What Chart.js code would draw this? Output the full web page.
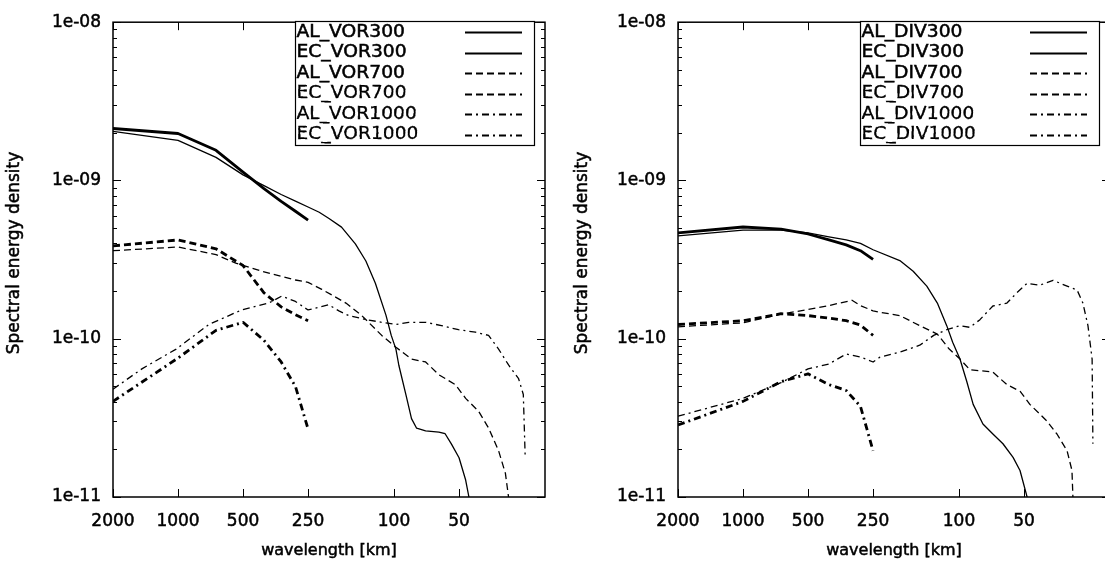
<!DOCTYPE html>
<html><head><meta charset="utf-8">
<script src="https://cdn.jsdelivr.net/npm/chart.js@4.4.1/dist/chart.umd.min.js"></script>
<style>
html,body{margin:0;padding:0;background:#fff;overflow:hidden;width:1105px;height:567px;position:relative;}
canvas{position:absolute;top:0;}
#left{left:0px}
#right{left:565px}
</style></head><body>
<canvas id="left" width="560" height="567"></canvas>
<canvas id="right" width="560" height="567"></canvas>
<script>
// ---- axis ticks / titles ----
const xTickValues = [2000, 1000, 500, 250, 100, 50];
const xTickLabels = ['2000', '1000', '500', '250', '100', '50'];
const yTickValues = [1e-11, 1e-10, 1e-9, 1e-8];
const yTickLabels = ['1e-11', '1e-10', '1e-09', '1e-08'];
const xTitle = 'wavelength [km]';
const yTitle = 'Spectral energy density';

// ---- AL (limited-area) wavelengths, km ----
const alLambda = [2000, 1000, 667, 500, 400, 333, 286, 250];

// ---- Vorticity panel ----
const alVor300 = [2.13e-9, 1.98e-9, 1.55e-9, 1.13e-9, 8.87e-10, 7.37e-10, 6.39e-10, 5.61e-10];
const alVor700 = [3.86e-10, 4.21e-10, 3.7e-10, 2.9e-10, 1.95e-10, 1.59e-10, 1.42e-10, 1.30e-10];
const alVor1000 = [4.02e-11, 7.55e-11, 1.13e-10, 1.27e-10, 9.77e-11, 7.13e-11, 4.99e-11, 2.69e-11];

const ecVor300Lambda = [2000, 1000, 667, 500, 400, 333, 286, 250, 222, 200, 175, 151, 135, 122, 109, 103, 98, 95, 88, 83, 78.6, 71.4, 62, 58, 54.2, 50, 46.6, 45, 43];
const ecVor300 = [2.04e-9, 1.79e-9, 1.40e-9, 1.085e-9, 9.27e-10, 8.15e-10, 7.4e-10, 6.8e-10, 6.3e-10, 5.75e-10, 5.07e-10, 3.98e-10, 3.10e-10, 2.24e-10, 1.41e-10, 1.05e-10, 8.6e-11, 6.8e-11, 4.4e-11, 3.13e-11, 2.72e-11, 2.62e-11, 2.57e-11, 2.51e-11, 2.16e-11, 1.77e-11, 1.28e-11, 1e-11, 7e-12];

const ecVor700Lambda = [2000, 1000, 667, 540, 409, 286, 250, 216, 194, 167, 141, 114, 98, 83, 71.4, 62, 52, 46.6, 40.6, 36.5, 32.8, 30.5, 29.5, 29];
const ecVor700 = [3.6e-10, 3.8e-10, 3.4e-10, 3.0e-10, 2.67e-10, 2.35e-10, 2.27e-10, 2.05e-10, 1.89e-10, 1.68e-10, 1.40e-10, 1.05e-10, 8.84e-11, 7.44e-11, 7.13e-11, 5.92e-11, 5.13e-11, 4.2e-11, 3.48e-11, 2.73e-11, 1.96e-11, 1.41e-11, 1e-11, 8e-12];

const ecVor1000Lambda = [2000, 1470, 1020, 720, 508, 380, 331, 286, 250, 222, 201, 180, 162, 134, 114, 98, 85.6, 71.4, 60.3, 50.3, 42, 36.5, 32.8, 29.5, 26.5, 25.2, 24.7];
const ecVor1000 = [4.8e-11, 6.45e-11, 8.6e-11, 1.23e-10, 1.52e-10, 1.68e-10, 1.86e-10, 1.72e-10, 1.52e-10, 1.58e-10, 1.64e-10, 1.5e-10, 1.40e-10, 1.32e-10, 1.27e-10, 1.23e-10, 1.27e-10, 1.27e-10, 1.21e-10, 1.14e-10, 1.10e-10, 1.05e-10, 8.6e-11, 6.83e-11, 5.59e-11, 4.44e-11, 1.78e-11];

// ---- Divergence panel ----
const alDiv300 = [4.66e-10, 5.08e-10, 4.93e-10, 4.59e-10, 4.21e-10, 3.92e-10, 3.6e-10, 3.17e-10];
const alDiv700 = [1.23e-10, 1.30e-10, 1.44e-10, 1.40e-10, 1.35e-10, 1.30e-10, 1.22e-10, 1.05e-10];
const alDiv1000 = [2.85e-11, 4.02e-11, 5.35e-11, 6.0e-11, 5.13e-11, 4.71e-11, 3.74e-11, 1.96e-11];

const ecDiv300Lambda = [2000, 1000, 667, 500, 400, 333, 286, 250, 188, 163, 141, 126, 114, 107, 99, 92, 86, 77.5, 69.7, 62.6, 56.2, 52.2, 48.4, 46];
const ecDiv300 = [4.46e-10, 4.86e-10, 4.86e-10, 4.66e-10, 4.4e-10, 4.21e-10, 4.0e-10, 3.65e-10, 3.12e-10, 2.67e-10, 2.15e-10, 1.68e-10, 1.21e-10, 9.5e-11, 7.44e-11, 5.35e-11, 3.85e-11, 2.89e-11, 2.5e-11, 2.17e-11, 1.78e-11, 1.47e-11, 1e-11, 7e-12];

const ecDiv700Lambda = [2000, 1000, 667, 500, 400, 313, 286, 250, 232, 188, 152, 126, 111, 99, 89, 70, 60, 52, 47, 39.2, 35.2, 31.6, 30, 29.7, 29.5];
const ecDiv700 = [1.19e-10, 1.26e-10, 1.43e-10, 1.53e-10, 1.62e-10, 1.75e-10, 1.62e-10, 1.5e-10, 1.47e-10, 1.40e-10, 1.21e-10, 1.07e-10, 8.6e-11, 7.44e-11, 6.36e-11, 6.18e-11, 5.13e-11, 4.64e-11, 3.85e-11, 3.02e-11, 2.5e-11, 1.96e-11, 1.47e-11, 1e-11, 7e-12];

const ecDiv1000Lambda = [2000, 1000, 667, 500, 400, 333, 286, 250, 232, 188, 152, 131, 114, 99, 89, 80, 69.7, 60, 54, 48.4, 42.2, 36.7, 31.6, 28.4, 26.7, 25.3, 24.2, 24];
const ecDiv1000 = [3.24e-11, 4.2e-11, 5.28e-11, 6.45e-11, 6.93e-11, 8.0e-11, 7.66e-11, 7.13e-11, 7.66e-11, 8.23e-11, 9.1e-11, 1.05e-10, 1.14e-10, 1.21e-10, 1.18e-10, 1.32e-10, 1.61e-10, 1.68e-10, 1.95e-10, 2.24e-10, 2.18e-10, 2.34e-10, 2.15e-10, 2.03e-10, 1.68e-10, 1.21e-10, 7.44e-11, 2.17e-11];

// ---- styles ----
const FONT = 'DejaVu Sans';
const DASH = { s300: [], s700: [7, 4], s1000: [7, 4, 2, 4] };
const W_AL = 2.8, W_EC = 1.3;

function ds(label, lambda, values, width, dash) {
  return {
    label, data: lambda.map((l, i) => ({ x: l, y: values[i] })),
    borderColor: '#000', backgroundColor: '#000', borderWidth: width, borderDash: dash,
    pointRadius: 0, pointHoverRadius: 0, tension: 0, fill: false, clip: 0,
    borderCapStyle: 'butt', borderJoinStyle: 'round'
  };
}

function heavyText(ctx, text, x, y) {
  ctx.fillText(text, x, y);
  ctx.strokeText(text, x, y);
}

function decoPlugin(yTitleX) {
  return {
    id: 'deco',
    afterDatasetsDraw(chart) {
      const { ctx, chartArea: a, scales: { x, y } } = chart;
      ctx.save();
      ctx.strokeStyle = '#000';
      ctx.setLineDash([]);
      ctx.lineWidth = 1;
      ctx.beginPath();
      for (const v of yTickValues) {
        const py = Math.round(y.getPixelForValue(v)) + 0.5;
        ctx.moveTo(a.left, py); ctx.lineTo(a.left + 8, py);
        ctx.moveTo(a.right, py); ctx.lineTo(a.right - 8, py);
      }
      for (let d = -11; d < -8; d++) {
        for (let m = 2; m <= 9; m++) {
          const py = Math.round(y.getPixelForValue(m * Math.pow(10, d))) + 0.5;
          ctx.moveTo(a.left, py); ctx.lineTo(a.left + 4, py);
          ctx.moveTo(a.right, py); ctx.lineTo(a.right - 4, py);
        }
      }
      for (const v of xTickValues) {
        const px = Math.round(x.getPixelForValue(v)) + 0.5;
        ctx.moveTo(px, a.bottom); ctx.lineTo(px, a.bottom - 8);
        ctx.moveTo(px, a.top); ctx.lineTo(px, a.top + 8);
      }
      ctx.stroke();
      ctx.lineWidth = 1.5;
      ctx.strokeRect(a.left, a.top, a.right - a.left, a.bottom - a.top);

      // legend (gnuplot style: text left, sample right)
      const bx = 295, by = 21, bw = 239, rowH = 20.5, n = chart.data.datasets.length;
      ctx.fillStyle = '#fff';
      ctx.fillRect(bx, by, bw, rowH * n + 1);
      ctx.lineWidth = 1.2;
      ctx.strokeRect(bx + 0.5, by + 0.5, bw, rowH * n + 1);
      ctx.fillStyle = '#000';
      ctx.font = '17px "' + FONT + '"';
      ctx.textAlign = 'left';
      ctx.textBaseline = 'middle';
      chart.data.datasets.forEach((d, i) => {
        const cy = by + rowH * (i + 0.5) + 1;
        ctx.save();
        ctx.translate(bx + 1.5, cy);
        ctx.scale(1.1, 1);
        ctx.lineWidth = 0.5;
        heavyText(ctx, d.label, 0, 0);
        ctx.restore();
        ctx.beginPath();
        ctx.setLineDash(d.borderDash);
        ctx.lineWidth = 1.8;
        ctx.moveTo(465, Math.round(cy) + 0.5);
        ctx.lineTo(522, Math.round(cy) + 0.5);
        ctx.stroke();
      });
      ctx.setLineDash([]);

      // axis titles
      ctx.font = '16px "' + FONT + '"';
      ctx.textAlign = 'center';
      ctx.textBaseline = 'middle';
      ctx.lineWidth = 0.5;
      heavyText(ctx, xTitle, (a.left + a.right) / 2, 551);
      ctx.font = '17px "' + FONT + '"';
      ctx.translate(yTitleX, 253);
      ctx.rotate(-Math.PI / 2);
      heavyText(ctx, yTitle, 0, 0);
      ctx.restore();
    }
  };
}

function makeChart(id, datasets, yTitleX) {
  const tickFont = { family: FONT, size: 17 };
  return new Chart(document.getElementById(id), {
    type: 'line',
    data: { datasets },
    options: {
      responsive: false, animation: false, devicePixelRatio: 1,
      layout: { padding: { left: 0, right: 15, top: 15, bottom: 0 } },
      plugins: { legend: { display: false }, tooltip: { enabled: false }, title: { display: false } },
      scales: {
        x: {
          type: 'logarithmic', reverse: true, min: 20, max: 2000,
          afterBuildTicks: s => { s.ticks = xTickValues.map(v => ({ value: v })); },
          afterFit: s => { s.height = 70; },
          ticks: { autoSkip: false, maxRotation: 0, minRotation: 0, padding: 14, color: '#000', font: tickFont,
            textStrokeColor: '#000', textStrokeWidth: 0.5,
            callback: v => { const i = xTickValues.indexOf(v); return i >= 0 ? xTickLabels[i] : ''; } },
          grid: { display: false, drawTicks: false },
          border: { display: false }
        },
        y: {
          type: 'logarithmic', min: 1e-11, max: 1e-8,
          afterBuildTicks: s => { s.ticks = yTickValues.map(v => ({ value: v })); },
          afterFit: s => { s.width = 113; },
          ticks: { autoSkip: false, padding: 12, color: '#000', font: tickFont,
            textStrokeColor: '#000', textStrokeWidth: 0.5,
            callback: v => { const i = yTickValues.indexOf(v); return i >= 0 ? yTickLabels[i] : ''; } },
          grid: { display: false, drawTicks: false },
          border: { display: false }
        }
      }
    },
    plugins: [decoPlugin(yTitleX)]
  });
}

makeChart('left', [
  ds('AL_VOR300', alLambda, alVor300, W_AL, DASH.s300),
  ds('EC_VOR300', ecVor300Lambda, ecVor300, W_EC, DASH.s300),
  ds('AL_VOR700', alLambda, alVor700, W_AL, DASH.s700),
  ds('EC_VOR700', ecVor700Lambda, ecVor700, W_EC, DASH.s700),
  ds('AL_VOR1000', alLambda, alVor1000, W_AL, DASH.s1000),
  ds('EC_VOR1000', ecVor1000Lambda, ecVor1000, W_EC, DASH.s1000)
], 15);

makeChart('right', [
  ds('AL_DIV300', alLambda, alDiv300, W_AL, DASH.s300),
  ds('EC_DIV300', ecDiv300Lambda, ecDiv300, W_EC, DASH.s300),
  ds('AL_DIV700', alLambda, alDiv700, W_AL, DASH.s700),
  ds('EC_DIV700', ecDiv700Lambda, ecDiv700, W_EC, DASH.s700),
  ds('AL_DIV1000', alLambda, alDiv1000, W_AL, DASH.s1000),
  ds('EC_DIV1000', ecDiv1000Lambda, ecDiv1000, W_EC, DASH.s1000)
], 18);
</script>
</body></html>
